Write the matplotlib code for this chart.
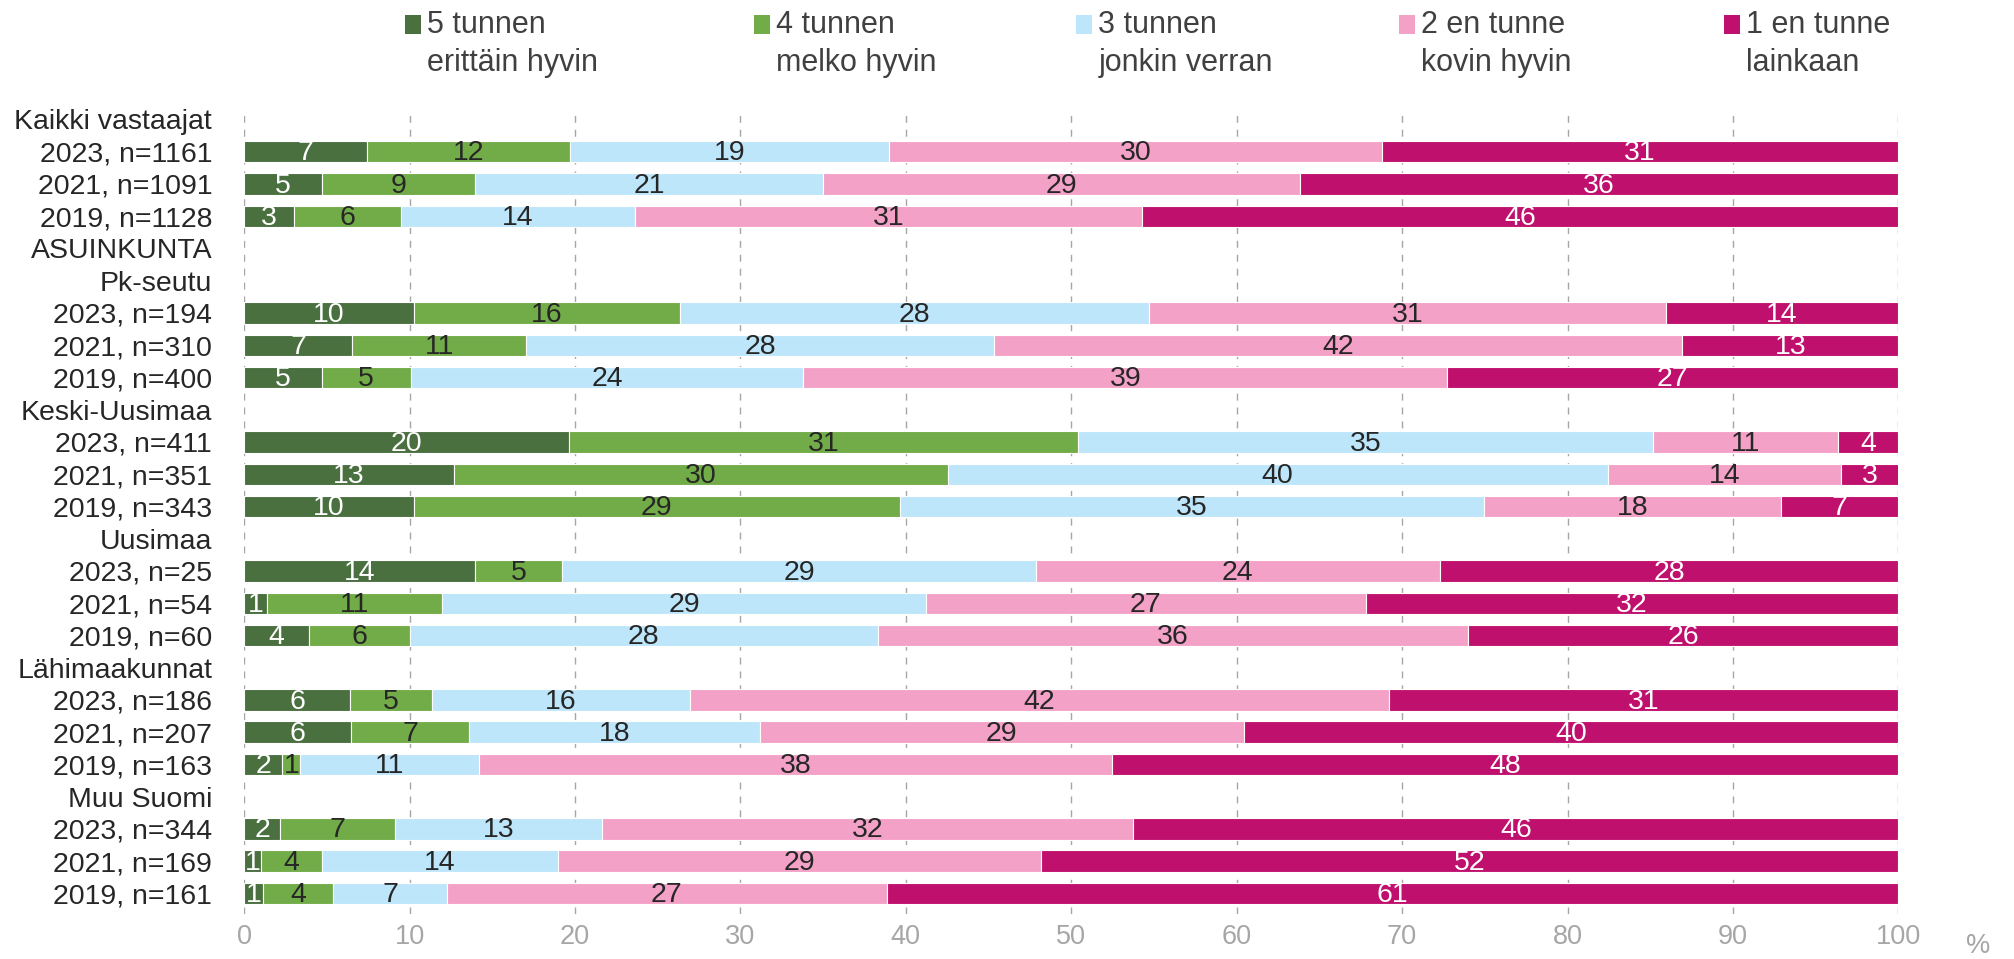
"""Tuntemus-kysymys: 100 % pinotut vaakapylväät alueittain ja vuosittain."""

import matplotlib

matplotlib.use("Agg")
import matplotlib.pyplot as plt
import numpy as np
from matplotlib.patches import Rectangle

plt.rcParams["font.family"] = ["Liberation Sans", "DejaVu Sans"]

# rivit ylhäältä alas; otsikkoriveillä ei ole pylvästä
ROW_LABELS = [
    "Kaikki vastaajat", "2023, n=1161", "2021, n=1091", "2019, n=1128",
    "ASUINKUNTA", "Pk-seutu", "2023, n=194", "2021, n=310", "2019, n=400",
    "Keski-Uusimaa", "2023, n=411", "2021, n=351", "2019, n=343",
    "Uusimaa", "2023, n=25", "2021, n=54", "2019, n=60",
    "Lähimaakunnat", "2023, n=186", "2021, n=207", "2019, n=163",
    "Muu Suomi", "2023, n=344", "2021, n=169", "2019, n=161",
]
HEADER_ROWS = {"Kaikki vastaajat", "ASUINKUNTA", "Pk-seutu", "Keski-Uusimaa",
               "Uusimaa", "Lähimaakunnat", "Muu Suomi"}

SERIES = [
    "5 tunnen\nerittäin hyvin",
    "4 tunnen\nmelko hyvin",
    "3 tunnen\njonkin verran",
    "2 en tunne\nkovin hyvin",
    "1 en tunne\nlainkaan",
]
COLORS = ["#4A7040", "#72AC48", "#BEE6FA", "#F4A1C8", "#C0106D"]
TEXT_COLORS = ["white", "#262626", "#262626", "#262626", "white"]

# prosentit pylväsriveittäin (vain data-rivit, järjestys kuten ROW_LABELS)
s5 = [7.45, 4.68, 3.01, 10.26, 6.55, 4.68, 19.63, 12.70, 10.26,
      13.98, 1.41, 3.91, 6.41, 6.48, 2.31, 2.18, 1.03, 1.15]
s4 = [12.26, 9.30, 6.45, 16.10, 10.52, 5.39, 30.79, 29.83, 29.38,
      5.26, 10.58, 6.09, 4.94, 7.12, 1.09, 6.93, 3.65, 4.24]
s3 = [19.30, 21.04, 14.17, 28.35, 28.29, 23.73, 34.76, 39.90, 35.34,
      28.61, 29.20, 28.29, 15.59, 17.57, 10.78, 12.51, 14.31, 6.86]
s2 = [29.77, 28.80, 30.66, 31.24, 41.56, 38.94, 11.16, 14.12, 17.90,
      24.44, 26.60, 35.67, 42.27, 29.25, 38.30, 32.13, 29.18, 26.62]
s1 = [31.22, 36.18, 45.71, 14.05, 13.08, 27.26, 3.66, 3.46, 7.12,
      27.71, 32.21, 26.04, 30.79, 39.58, 47.52, 46.25, 51.83, 61.13]

VALUES = np.array([s5, s4, s3, s2, s1])

W, H = 2014, 959
fig = plt.figure(figsize=(W / 100, H / 100), dpi=100)
ax = fig.add_axes([0.1212, 0.0469, 0.8214, 0.8353])

y_all = np.arange(len(ROW_LABELS))
y_bars = np.array([i for i, lab in enumerate(ROW_LABELS) if lab not in HEADER_ROWS])

left = np.zeros(len(y_bars))
for vals, color, tcol in zip(VALUES, COLORS, TEXT_COLORS):
    ax.barh(y_bars, vals, left=left, height=0.66, color=color,
            edgecolor="white", linewidth=0.8, zorder=3)
    for yy, x0, v in zip(y_bars, left, vals):
        ax.text(x0 + v / 2, yy + 0.05, f"{v:.0f}", ha="center", va="center",
                fontsize=20.5, color=tcol, zorder=4)
    left = left + vals

ax.set_xlim(0, 100)
ax.set_ylim(len(ROW_LABELS) - 1 + 0.64, -0.2)
ax.set_xticks(np.arange(0, 101, 10))
ax.set_yticks(y_all)
ax.set_yticklabels(ROW_LABELS, fontsize=20.5, color="#262626")
ax.tick_params(axis="y", length=0, pad=23)
ax.tick_params(axis="x", length=0, pad=7, labelsize=19.5, labelcolor="#a6a6a6")
ax.grid(axis="x", color="#a6a6a6", linestyle=(0, (5, 5)), linewidth=1.0, zorder=0)
ax.set_axisbelow(True)
for sp in ax.spines.values():
    sp.set_visible(False)

fig.text(0.982, 0.014, "%", fontsize=19.5, color="#a6a6a6", ha="center", va="center")

# selite ylhäällä: neliö + kaksirivinen teksti
sq_left = [315, 587, 838, 1089, 1342]
for xs, lab, color in zip(sq_left, SERIES, COLORS):
    fx = xs / 1568
    fig.patches.append(Rectangle((fx, 0.965), 16 / W, 19 / H, transform=fig.transFigure,
                                 facecolor=color, edgecolor="none"))
    line1, line2 = lab.split("\n")
    fig.text(fx + 22 / W, 0.974, line1, fontsize=22, color="#404040", va="center")
    fig.text(fx + 22 / W, 0.934, line2, fontsize=22, color="#404040", va="center")

fig.savefig("out.png", dpi=100)
